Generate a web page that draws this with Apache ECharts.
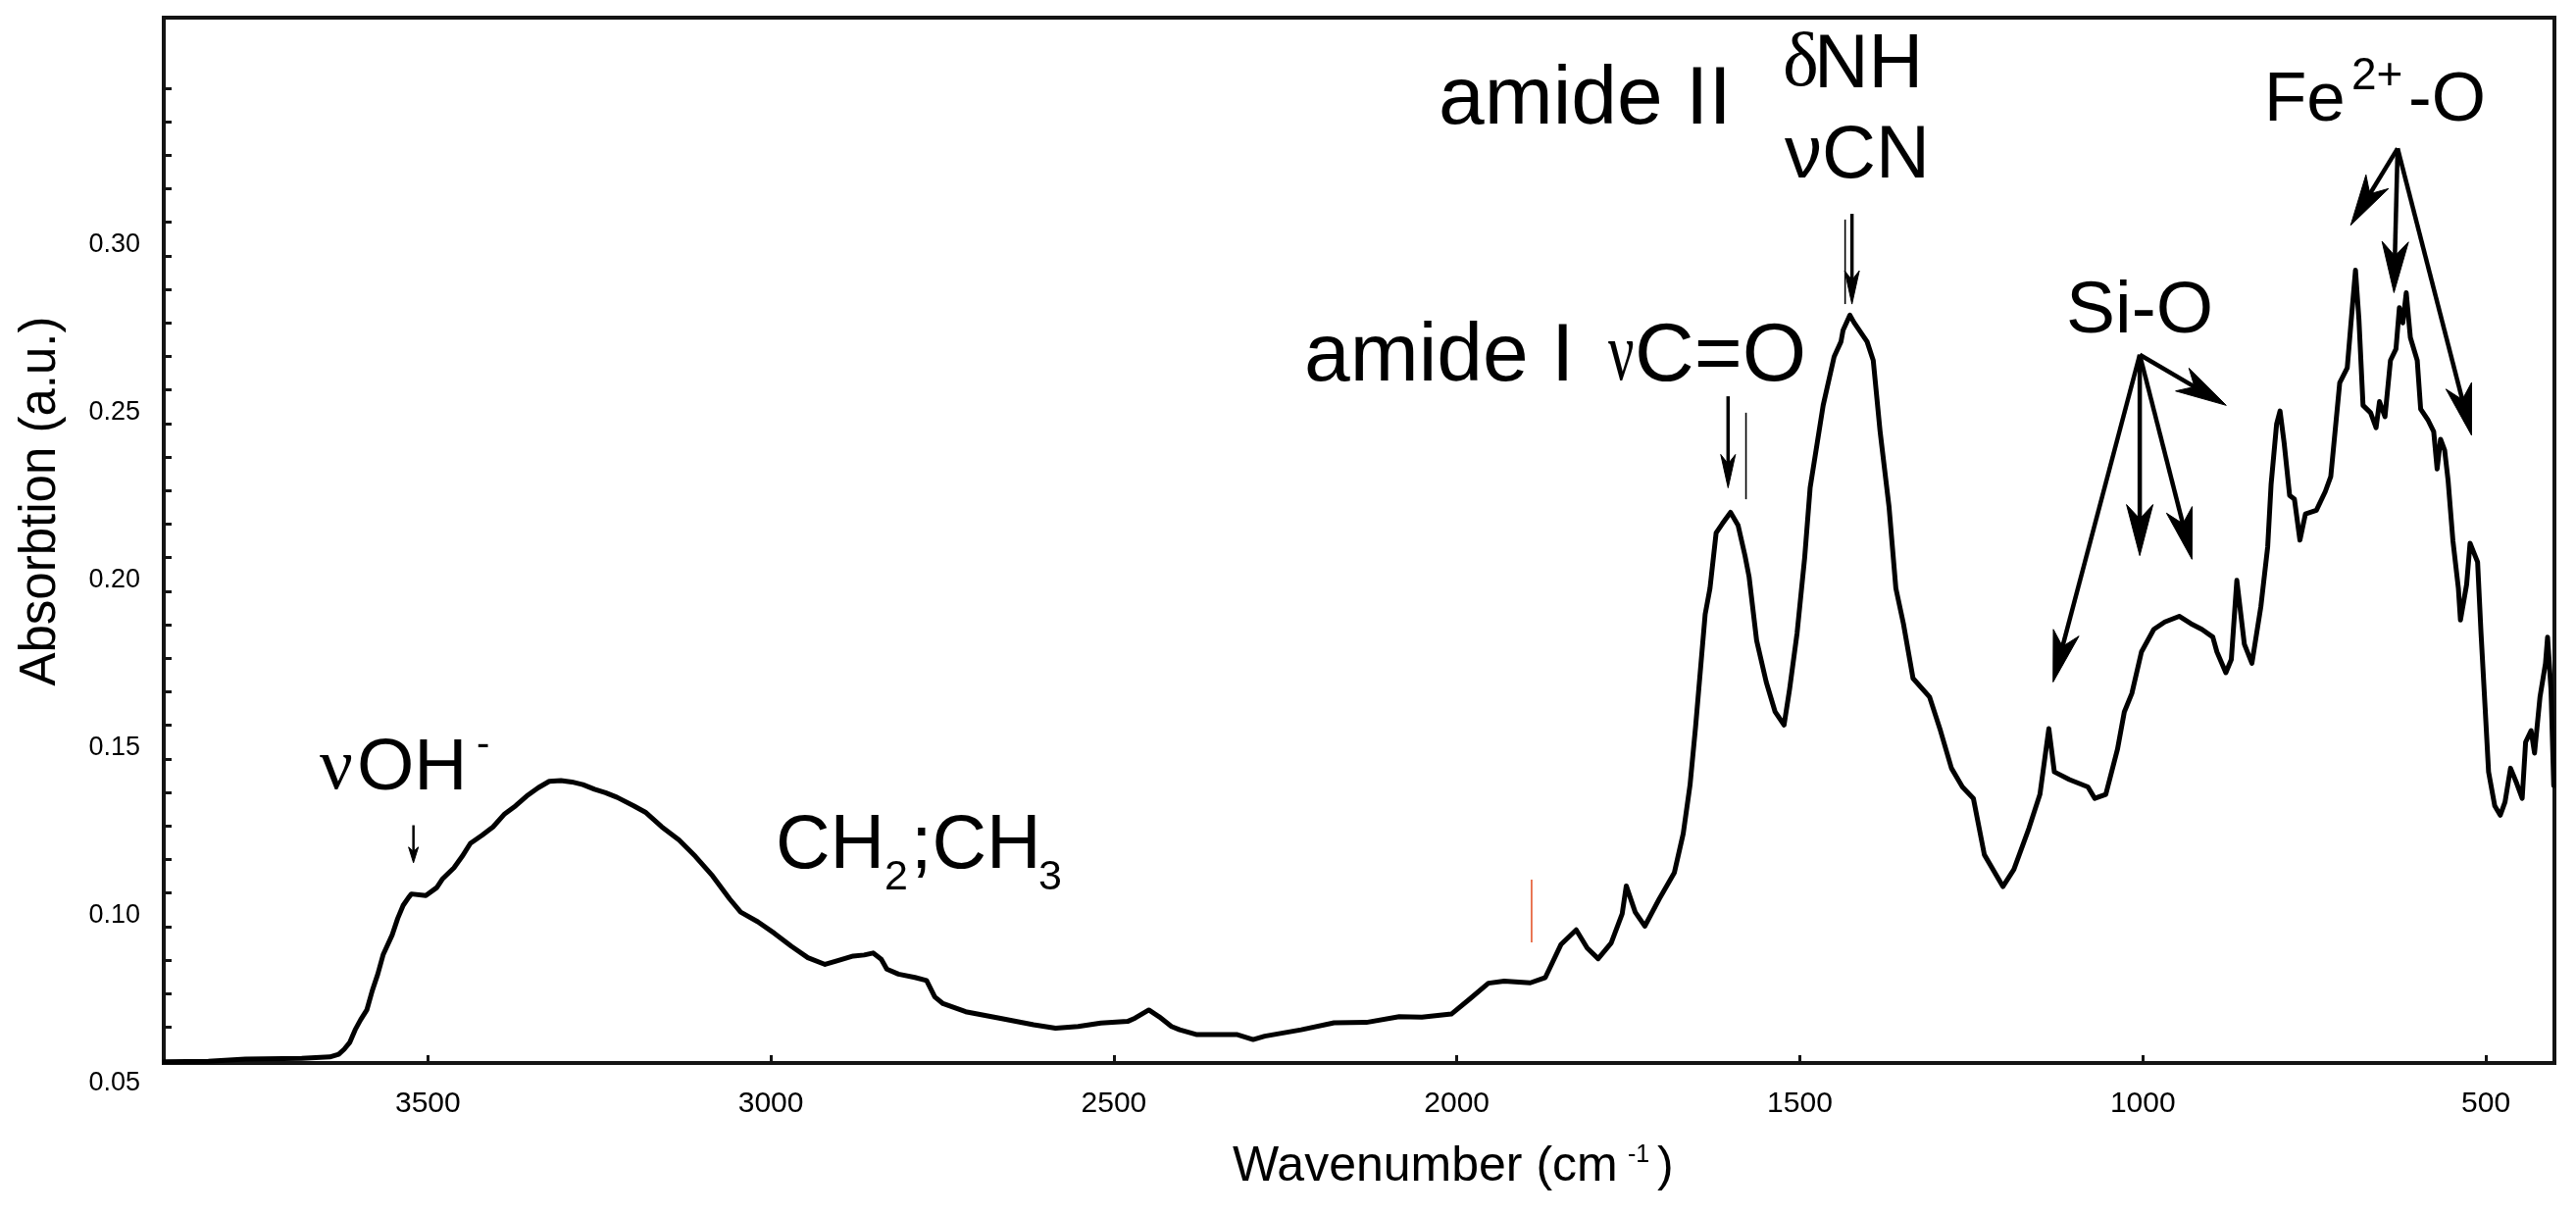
<!DOCTYPE html>
<html><head><meta charset="utf-8">
<script src="https://cdn.jsdelivr.net/npm/echarts@6/dist/echarts.min.js"></script>
<style>html,body{margin:0;padding:0;background:#fff}#c{width:2627px;height:1239px}</style>
</head><body><div id="c"></div>
<script>
// ---------------- data ----------------
const wavenumber = [3884,3820,3766,3684,3643,3630,3622,3614,3606,3598,3589,3581,3573,3565,3552,3544,3536,3528,3524,3503,3487,3479,3462,3450,3438,3421,3405,3388,3372,3356,3339,3323,3306,3290,3274,3257,3241,3224,3200,3183,3159,3134,3110,3085,3060,3044,3019,2995,2970,2946,2921,2905,2880,2864,2851,2839,2831,2814,2790,2773,2761,2749,2716,2667,2617,2585,2552,2519,2480,2469,2449,2434,2416,2404,2380,2321,2297,2280,2227,2179,2132,2084,2051,2008,1980,1954,1931,1893,1871,1848,1826,1810,1794,1775,1759,1753,1740,1726,1705,1683,1670,1660,1652,1638,1631,1622,1613,1601,1590,1580,1574,1563,1549,1536,1523,1515,1504,1493,1485,1466,1450,1440,1437,1427,1421,1402,1393,1383,1370,1360,1349,1335,1311,1295,1279,1263,1247,1231,1204,1188,1166,1150,1137,1129,1107,1080,1070,1054,1037,1027,1016,1002,984,968,947,930,914,898,892,879,871,863,852,841,828,818,813,805,800,794,786,779,771,763,747,734,726,713,702,697,690,685,679,668,660,655,647,639,631,626,621,616,610,600,595,584,576,571,566,560,555,548,540,537,528,523,512,507,501,496,487,479,472,464,455,447,442,434,429,421,413,410,405,401];
const absorbance = [0.0597,0.0598,0.0605,0.0607,0.0611,0.0619,0.0634,0.0654,0.0692,0.0722,0.0751,0.0809,0.0858,0.0917,0.0975,0.1024,0.1063,0.1087,0.1097,0.1092,0.1116,0.1141,0.1175,0.1209,0.1248,0.1272,0.1297,0.1336,0.1360,0.1389,0.1414,0.1433,0.1435,0.1431,0.1423,0.1409,0.1399,0.1385,0.1360,0.1341,0.1297,0.1258,0.1209,0.1151,0.1082,0.1043,0.1014,0.0980,0.0941,0.0907,0.0887,0.0897,0.0912,0.0915,0.0921,0.0902,0.0873,0.0858,0.0848,0.0839,0.0790,0.0770,0.0746,0.0727,0.0707,0.0697,0.0702,0.0712,0.0717,0.0727,0.0751,0.0731,0.0702,0.0692,0.0678,0.0678,0.0663,0.0673,0.0692,0.0713,0.0714,0.0731,0.0730,0.0739,0.0786,0.0831,0.0837,0.0832,0.0848,0.0947,0.0990,0.0936,0.0904,0.0951,0.1038,0.1121,0.1043,0.1001,0.1082,0.1160,0.1277,0.1423,0.1595,0.1931,0.2008,0.2174,0.2201,0.2235,0.2196,0.2106,0.2043,0.1853,0.1729,0.1640,0.1601,0.1707,0.1875,0.2099,0.2308,0.2554,0.2699,0.2744,0.2778,0.2823,0.2801,0.2744,0.2688,0.2476,0.2252,0.2008,0.1903,0.1740,0.1685,0.1584,0.1472,0.1416,0.1382,0.1214,0.1119,0.1170,0.1293,0.1394,0.1590,0.1461,0.1438,0.1416,0.1382,0.1394,0.1528,0.1640,0.1695,0.1819,0.1886,0.1908,0.1925,0.1903,0.1886,0.1863,0.1819,0.1757,0.1796,0.2032,0.1842,0.1785,0.1953,0.2132,0.2319,0.2498,0.2537,0.2442,0.2285,0.2274,0.2152,0.2230,0.2241,0.2297,0.2342,0.2621,0.2666,0.2789,0.2957,0.2811,0.2554,0.2532,0.2487,0.2565,0.2520,0.2688,0.2722,0.2845,0.2800,0.2890,0.2756,0.2688,0.2543,0.2509,0.2476,0.2364,0.2453,0.2420,0.2330,0.2151,0.2008,0.1914,0.2020,0.2143,0.2087,0.1875,0.1651,0.1461,0.1360,0.1332,0.1371,0.1472,0.1427,0.1382,0.1550,0.1584,0.1517,0.1685,0.1785,0.1863,0.1707,0.1420];

const xTickValues = [500,1000,1500,2000,2500,3000,3500];
const yLabelValues = [0.05,0.10,0.15,0.20,0.25,0.30];
const yMinorTickValues = [0.07,0.08,0.09,0.10,0.11,0.12,0.13,0.14,0.15,0.16,0.17,0.18,0.19,0.20,0.21,0.22,0.23,0.24,0.25,0.26,0.27,0.28,0.29,0.30,0.31,0.32,0.33,0.34,0.35];

// annotation arrows in data space: [fromWavenumber, fromAbs, toWavenumber, toAbs, kind]
const arrowKinds = ['big','mid','small','thin','red'];
const arrowsOH   = [[3521,0.1302,3521,0.1190,2]];
const arrowsAmide= [[1604.6,0.2581,1604.6,0.2308,1],[1578.5,0.2532,1578.5,0.2274,3],
                    [1424,0.3125,1424,0.2856,1],[1434,0.3108,1434,0.2856,3]];
const arrowsSiO  = [[1004.5,0.2705,878.4,0.2554,0],[1004.5,0.2705,1004.5,0.2106,0],
                    [1004.5,0.2705,928.4,0.2095,0],[1004.5,0.2705,1130.8,0.1729,0]];
const arrowsFeO  = [[628.6,0.3320,697,0.3091,0],[628.6,0.3320,633.9,0.2890,0],[628.6,0.3320,520.9,0.2465,0]];
const markerRed  = [[1891,0.1140,1891,0.0953,4]];

// ---------------- styles ----------------
const kindStyle = {
  big:  {lw:4.5, hl:52, hw:27, color:'#000'},
  mid:  {lw:3.5, hl:34, hw:15, color:'#000'},
  small:{lw:2.5, hl:16, hw:10, color:'#000'},
  thin: {lw:1.6, hl:0,  hw:0,  color:'#000'},
  red:  {lw:1.6, hl:0,  hw:0,  color:'#e4572e'}
};
const SANS = '"Liberation Sans", Arial, sans-serif';
const SERIF = '"Liberation Serif", "Times New Roman", serif';
const AX = '#141414';

function txt(text, x, baseline, size, family, extra) {
  return Object.assign({
    type:'text', x:x, y: baseline - 0.3465*size, silent:true,
    style:{text:text, font: size+'px '+family, fill:'#000',
      align:'left', verticalAlign:'middle', textAlign:'left', textVerticalAlign:'middle'}
  }, extra||{});
}

const chart = echarts.init(document.getElementById('c'), null, {renderer:'canvas'});
const lineData = wavenumber.map((w,i)=>[w, absorbance[i]]);
const allArrows = [].concat(arrowsOH, arrowsAmide, arrowsSiO, arrowsFeO, markerRed);

chart.setOption({
  animation:false,
  backgroundColor:'#fff',
  textStyle:{fontFamily:SANS},
  grid:[
    {left:167, right:22, top:18, bottom:155, show:true, borderColor:AX, borderWidth:4, outerBoundsMode:'none', containLabel:false},
    {left:167, right:22, top:7.7, bottom:134.2, show:false, outerBoundsMode:'none', containLabel:false}
  ],
  xAxis:[
    {type:'value', gridIndex:0, inverse:true, min:400, max:3885, splitNumber:7,
     axisLine:{show:true, lineStyle:{color:AX, width:4}},
     axisTick:{show:true, inside:true, length:8, lineStyle:{color:AX, width:3}, customValues:xTickValues},
     axisLabel:{show:true, color:'#000', fontSize:30, fontFamily:SANS, margin:27, customValues:xTickValues,
       showMinLabel:true, showMaxLabel:true, hideOverlap:false, formatter:v=>String(v)},
     splitLine:{show:false}},
    {type:'value', gridIndex:1, min:0, max:1, show:false}
  ],
  yAxis:[
    {type:'value', gridIndex:0, min:0.0593, max:0.371,
     axisLine:{show:true, lineStyle:{color:AX, width:4}},
     axisTick:{show:true, inside:true, length:8, lineStyle:{color:AX, width:3}, customValues:yMinorTickValues},
     axisLabel:{show:false}, splitLine:{show:false}},
    {type:'value', gridIndex:1, min:0.05, max:0.3708,
     axisLine:{show:false}, axisTick:{show:false}, splitLine:{show:false},
     axisLabel:{show:true, color:'#000', fontSize:27, fontFamily:SANS, margin:24, customValues:yLabelValues,
       showMinLabel:true, showMaxLabel:true, formatter:v=>v.toFixed(2)}}
  ],
  series:[
    {type:'line', xAxisIndex:0, yAxisIndex:0, data:lineData, showSymbol:false, silent:true,
     lineStyle:{color:'#000', width:5, join:'round', cap:'round'}},
    {type:'line', xAxisIndex:1, yAxisIndex:1, data:[], showSymbol:false},
    {type:'custom', xAxisIndex:0, yAxisIndex:0, data:allArrows, clip:false, silent:true,
     encode:{x:[0,2], y:[1,3]},
     renderItem:function(params, api){
       const s = kindStyle[arrowKinds[api.value(4)]];
       const p1 = api.coord([api.value(0), api.value(1)]);
       const p2 = api.coord([api.value(2), api.value(3)]);
       const dx = p2[0]-p1[0], dy = p2[1]-p1[1];
       const L = Math.hypot(dx,dy) || 1;
       const ux = dx/L, uy = dy/L, nx = -uy, ny = ux;
       const children = [];
       let end = p2;
       if (s.hl > 0) {
         const bx = p2[0]-ux*s.hl, by = p2[1]-uy*s.hl;
         const notch = [p2[0]-ux*s.hl*0.72, p2[1]-uy*s.hl*0.72];
         end = [p2[0]-ux*s.hl*0.6, p2[1]-uy*s.hl*0.6];
         children.push({type:'polygon', shape:{points:[
           [p2[0],p2[1]], [bx+nx*s.hw/2, by+ny*s.hw/2], notch, [bx-nx*s.hw/2, by-ny*s.hw/2]]},
           style:{fill:s.color, stroke:s.color, lineWidth:1}});
       }
       children.push({type:'line', shape:{x1:p1[0], y1:p1[1], x2:end[0], y2:end[1]},
         style:{stroke:s.color, lineWidth:s.lw, lineCap:'butt'}});
       return {type:'group', children:children};
     }}
  ],
  graphic:[
    // axis titles
    {type:'text', x:42, y:511, rotation:Math.PI/2, silent:true,
     style:{text:'Absorbtion (a.u.)', font:'51px '+SANS, fill:'#000', align:'center', verticalAlign:'middle', textAlign:'center', textVerticalAlign:'middle'}},
    txt('Wavenumber (cm', 1257, 1208, 50, SANS),
    txt('-1', 1660, 1187, 25, SANS),
    txt(')', 1690, 1208, 50, SANS),
    // vOH-
    txt('ν', 326, 810, 75, SERIF),
    txt('OH', 364, 810, 75, SANS),
    txt('-', 486, 774, 40, SANS),
    // CH2;CH3
    txt('CH', 791, 890, 77, SANS),
    txt('2', 902, 910, 43, SANS),
    txt(';CH', 929, 890, 77, SANS),
    txt('3', 1059, 910, 43, SANS),
    // amide II
    txt('amide II', 1467, 132, 84, SANS),
    // dNH / vCN
    txt('δ', 1818, 94, 78, SERIF),
    txt('NH', 1850, 94, 77, SANS),
    txt('νCN', 1820, 186, 76, SANS),
    // amide I vC=O
    txt('amide I', 1330, 394, 84, SANS),
    txt('ν', 1640, 394, 84, SERIF, {scaleX:0.7}),
    txt('C=O', 1667, 394, 84, SANS),
    // Si-O
    txt('Si-O', 2107, 344, 75, SANS),
    // Fe2+-O
    txt('Fe', 2309, 128, 71, SANS),
    txt('2+', 2398, 94, 46, SANS),
    txt('-O', 2456, 128, 71, SANS)
  ]
});
</script>
</body></html>
